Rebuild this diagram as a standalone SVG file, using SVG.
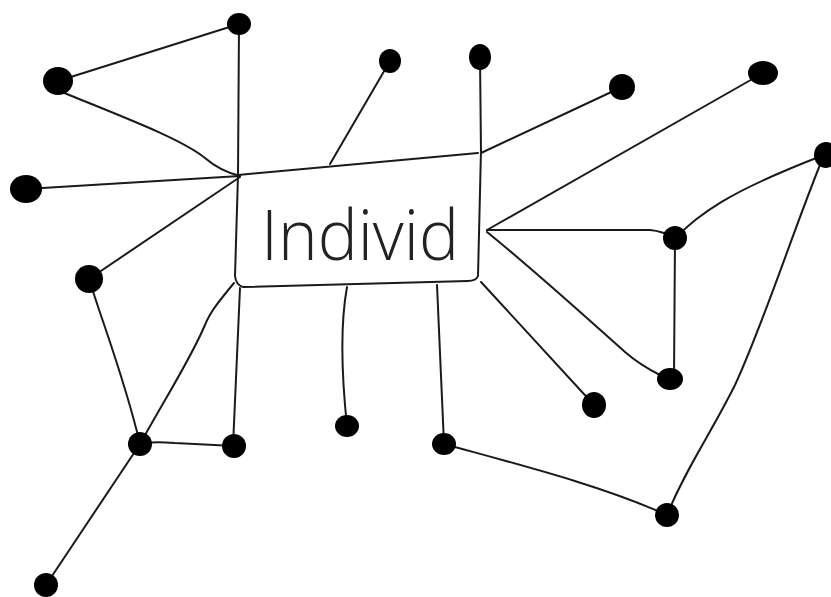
<svg xmlns="http://www.w3.org/2000/svg" width="831" height="597" viewBox="0 0 831 597">
<style>
.e{fill:none;stroke:#1a1a1a;stroke-width:2;stroke-linecap:round;stroke-linejoin:round}
.d{fill:#000}
.lbl{font-family:"Open Sans","Liberation Sans",Arial,sans-serif;font-weight:300;font-size:70px;fill:#222}
</style>
<rect width="831" height="597" fill="#fff"/>
<g id="connectors">
<path class="e" d="M239,24 L238,175"/>
<path class="e" d="M239,24 L58,81"/>
<path class="e" d="M62,92 C120,116 180,138 205,158 Q220,171 240,176"/>
<path class="e" d="M26,189 L240,176"/>
<path class="e" d="M89,279 L240,177"/>
<path class="e" d="M390,61 L330,164"/>
<path class="e" d="M480,57 L481,153"/>
<path class="e" d="M622,87 L481,153"/>
<path class="e" d="M763,73 L487,230"/>
<path class="e" d="M487,230 L650,230 Q662,231 675,238"/>
<path class="e" d="M487,232 C540,275 600,330 625,352 Q640,365 660,375"/>
<path class="e" d="M675,238 L674,379"/>
<path class="e" d="M675,238 C700,215 720,195 824,155"/>
<path class="e" d="M824,155 C795,225 765,320 735,385 C710,435 685,470 667,515"/>
<path class="e" d="M444,444 C520,465 600,485 667,515"/>
<path class="e" d="M481,282 L594,405"/>
<path class="e" d="M437,285 L444,444"/>
<path class="e" d="M347,287 C341,320 340,360 347,426"/>
<path class="e" d="M240,288 L233,446"/>
<path class="e" d="M234,283 C220,300 210,312 205,325 C190,360 170,390 140,444"/>
<path class="e" d="M89,279 C105,330 125,380 140,444"/>
<path class="e" d="M140,444 Q150,441 175,443 L234,446"/>
<path class="e" d="M140,444 L46,585"/>
</g>
<g id="individ">
<path class="e" d="M238,175 L478,153"/>
<path class="e" d="M238,175 L235,276 Q236,285 243,287 L468,281 Q476,281 478,276 L481,150"/>
<text class="lbl" x="261" y="260" textLength="198" lengthAdjust="spacingAndGlyphs">Individ</text>
</g>
<g id="n1"><ellipse class="d" cx="239" cy="24" rx="12" ry="11"/></g>
<g id="n2"><ellipse class="d" cx="58" cy="81" rx="15" ry="14"/></g>
<g id="n3"><ellipse class="d" cx="26" cy="189" rx="16" ry="14"/></g>
<g id="n4"><ellipse class="d" cx="89" cy="279" rx="14" ry="14"/></g>
<g id="n5"><ellipse class="d" cx="390" cy="61" rx="11" ry="12"/></g>
<g id="n6"><ellipse class="d" cx="480" cy="57" rx="11" ry="13"/></g>
<g id="n7"><ellipse class="d" cx="622" cy="87" rx="13" ry="13"/></g>
<g id="n8"><ellipse class="d" cx="763" cy="73" rx="15" ry="12"/></g>
<g id="n9"><ellipse class="d" cx="826" cy="155" rx="12" ry="13"/></g>
<g id="n10"><ellipse class="d" cx="675" cy="238" rx="12" ry="12"/></g>
<g id="n11"><ellipse class="d" cx="670" cy="379" rx="13" ry="11"/></g>
<g id="n12"><ellipse class="d" cx="594" cy="405" rx="12" ry="13"/></g>
<g id="n13"><ellipse class="d" cx="667" cy="515" rx="12" ry="12"/></g>
<g id="n14"><ellipse class="d" cx="444" cy="444" rx="12" ry="11"/></g>
<g id="n15"><ellipse class="d" cx="347" cy="426" rx="12" ry="11"/></g>
<g id="n16"><ellipse class="d" cx="234" cy="446" rx="12" ry="12"/></g>
<g id="n17"><ellipse class="d" cx="140" cy="444" rx="12" ry="12"/></g>
<g id="n18"><ellipse class="d" cx="46" cy="585" rx="12" ry="12"/></g>
</svg>
